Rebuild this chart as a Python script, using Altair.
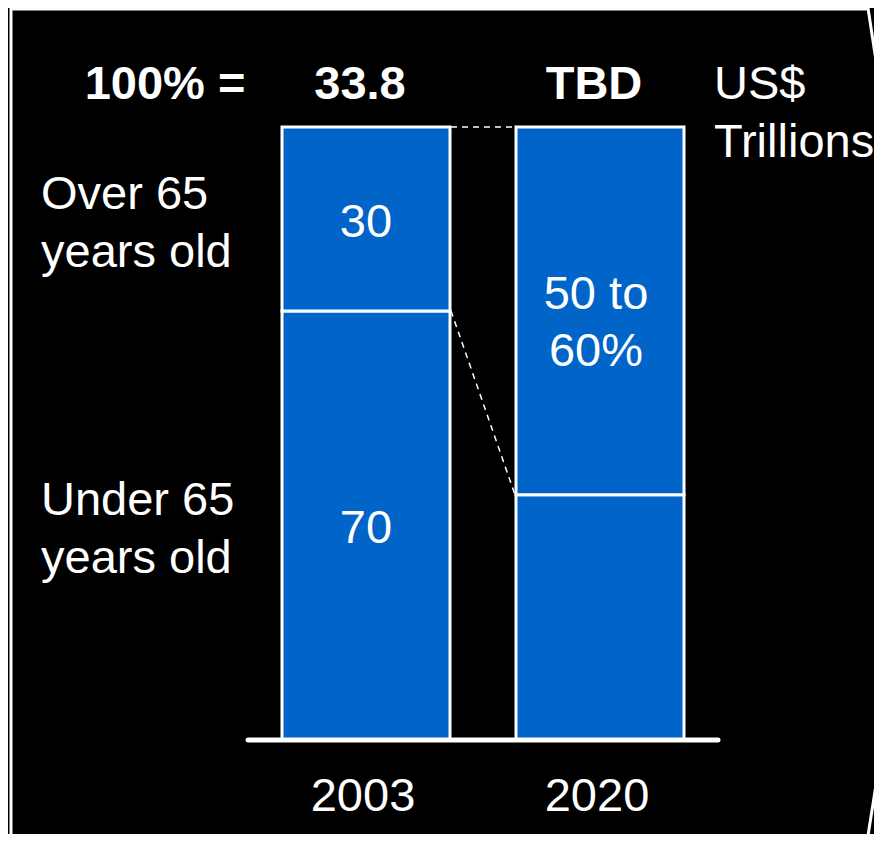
import altair as alt
import pandas as pd

# ---- data ----
years = ["2003", "2020"]
under_65 = [70, 40]
over_65 = [30, 60]
totals = ["33.8", "TBD"]
labels_under = ["70", ""]
labels_over = ["30", "50 to\n60%"]
group_names = ["Under 65\nyears old", "Over 65\nyears old"]

rows = []
for i, yr in enumerate(years):
    rows.append(dict(year=yr, group=group_names[0], start=0, end=under_65[i], label=labels_under[i], total=totals[i]))
    rows.append(dict(year=yr, group=group_names[1], start=under_65[i], end=under_65[i] + over_65[i],
                     label=labels_over[i], total=totals[i]))
df = pd.DataFrame(rows)
df["mid"] = (df["start"] + df["end"]) / 2
df["multi"] = df["label"].str.contains("\n")
tot_df = pd.DataFrame({"year": years, "total": totals})
one = pd.DataFrame({"a": [0]})

FONT = "Liberation Sans"
FS = 47
BLUE = "#0064C8"

x_scale = alt.Scale(domain=years, range=[274, 676], paddingInner=0.282, paddingOuter=0)
y_scale = alt.Scale(domain=[0, 100], range=[732, 119])

X = alt.X("year:N", scale=x_scale, axis=None)

bars = alt.Chart(df).mark_bar(color=BLUE, stroke="white", strokeWidth=3).encode(
    x=X,
    y=alt.Y("start:Q", scale=y_scale, axis=None),
    y2="end:Q",
)

seg_single = alt.Chart(df).transform_filter("!datum.multi").mark_text(
    font=FONT, fontSize=FS, color="white", baseline="middle", dy=4
).encode(
    x=X,
    y=alt.Y("mid:Q", scale=y_scale, axis=None),
    text="label:N",
)

seg_multi = alt.Chart(df).transform_filter("datum.multi").mark_text(
    font=FONT, fontSize=FS, color="white", lineBreak="\n", lineHeight=57, baseline="middle", dy=-16, dx=-4
).encode(
    x=X,
    y=alt.Y("mid:Q", scale=y_scale, axis=None),
    text="label:N",
)

group_labels = alt.Chart(df).transform_filter(alt.datum.year == years[0]).mark_text(
    font=FONT, fontSize=FS, color="white", lineBreak="\n", lineHeight=58, align="left", baseline="middle", dy=-24
).encode(
    x=alt.value(33),
    y=alt.Y("mid:Q", scale=y_scale, axis=None),
    text="group:N",
)

total_labels = alt.Chart(tot_df).mark_text(
    font=FONT, fontSize=FS, fontWeight="bold", color="white", baseline="middle", dx=-6
).encode(x=X, y=alt.value(77), text="total:N")

year_labels = alt.Chart(tot_df).mark_text(
    font=FONT, fontSize=FS, color="white", baseline="middle", dx=-3
).encode(x=X, y=alt.value(789), text="year:N")

hundred = alt.Chart(one).mark_text(
    font=FONT, fontSize=FS, fontWeight="bold", color="white", baseline="middle", text="100% ="
).encode(x=alt.value(157), y=alt.value(77))

unit1 = alt.Chart(one).mark_text(
    font=FONT, fontSize=FS, color="white", baseline="middle", align="left", text="US$"
).encode(x=alt.value(706), y=alt.value(77))
unit2 = alt.Chart(one).mark_text(
    font=FONT, fontSize=FS, color="white", baseline="middle", align="left", text="Trillions"
).encode(x=alt.value(706), y=alt.value(135))

baseline = alt.Chart(one).mark_rule(color="white", strokeWidth=5, strokeCap="round").encode(
    x=alt.value(240), x2=alt.value(710),
    y=alt.Y(datum=0, type="quantitative", scale=y_scale, axis=None),
)

dash_top = alt.Chart(one).mark_rule(color="white", strokeWidth=1.5, strokeDash=[6, 5]).encode(
    x=alt.value(443), x2=alt.value(507),
    y=alt.Y(datum=100, type="quantitative", scale=y_scale, axis=None),
)
dash_diag = alt.Chart(one).mark_rule(color="white", strokeWidth=1.5, strokeDash=[6, 5]).encode(
    x=alt.value(443), x2=alt.value(507),
    y=alt.Y(datum=under_65[0], type="quantitative", scale=y_scale, axis=None),
    y2=alt.Y2(datum=under_65[1]),
)


# frame (decoration)
def seg(x1, y1, x2, y2):
    return alt.Chart(one).mark_rule(color="white", strokeWidth=3).encode(
        x=alt.value(x1), y=alt.value(y1), x2=alt.value(x2), y2=alt.value(y2)
    )


frame = [
    seg(3, 1, 860, 1),
    seg(3, 0, 3, 834),
    seg(860, 0, 874, 92),
    seg(874, 739, 859, 834),
]

chart = alt.layer(
    *frame, bars, dash_top, dash_diag, baseline, seg_single, seg_multi, group_labels,
    total_labels, year_labels, hundred, unit1, unit2,
).properties(
    width=866, height=826, autosize="none", padding=0, background="black"
).configure_view(stroke=None)

chart.save("out.html", embed_options={"renderer": "svg", "actions": False})
